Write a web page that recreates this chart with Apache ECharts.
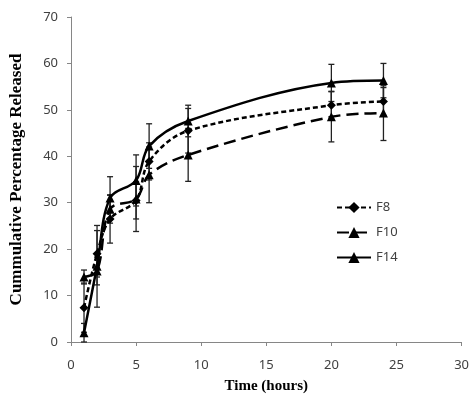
<!DOCTYPE html>
<html>
<head>
<meta charset="utf-8">
<script src="https://cdn.jsdelivr.net/npm/echarts/dist/echarts.min.js"></script>
<style>
  html, body { margin: 0; padding: 0; background: #fff; }
  #chart { width: 472px; height: 399px; }
</style>
</head>
<body>
<div id="chart"></div>
<script>
// sampling times (hours)
const times = [1, 2, 3, 5, 6, 9, 20, 24];

// cumulative % released
const f8 = [7.4, 19.0, 26.5, 30.5, 38.9, 45.5, 51.0, 51.8];
const f10 = [14.0, 15.3, 28.6, 30.8, 36.0, 40.3, 48.5, 49.3];
const f14 = [2.0, 16.3, 31.0, 34.8, 42.2, 47.6, 55.8, 56.3];

// standard deviations
const f8Err = [5.3, 5.0, 5.2, 4.0, 4.0, 4.8, 3.0, 3.0];
const f10Err = [1.5, 3.0, 3.0, 7.0, 6.0, 5.7, 5.4, 5.9];
const f14Err = [2.0, 8.8, 4.6, 5.5, 4.8, 3.4, 4.0, 3.7];

const tickFont = 'Noto Sans';
const titleFont = '"Liberation Serif", "Times New Roman", serif';

function pairs(vals) {
  return times.map((t, i) => [t, vals[i]]);
}

function errData(vals, errs) {
  return times.map((t, i) => [t, vals[i] - errs[i], vals[i] + errs[i]]);
}

function renderErr(params, api) {
  const lo = api.coord([api.value(0), api.value(1)]);
  const hi = api.coord([api.value(0), api.value(2)]);
  const w = 3;
  const style = { stroke: '#222', lineWidth: 1.3 };
  return {
    type: 'group',
    children: [
      { type: 'line', shape: { x1: hi[0], y1: hi[1], x2: lo[0], y2: lo[1] }, style: style },
      { type: 'line', shape: { x1: hi[0] - w, y1: hi[1], x2: hi[0] + w, y2: hi[1] }, style: style },
      { type: 'line', shape: { x1: lo[0] - w, y1: lo[1], x2: lo[0] + w, y2: lo[1] }, style: style }
    ]
  };
}

function errSeries(vals, errs) {
  return {
    type: 'custom',
    renderItem: renderErr,
    data: errData(vals, errs),
    encode: { x: 0, y: [1, 2] },
    z: 1,
    silent: true
  };
}

function lineSeries(name, vals, symbol, dash) {
  return {
    name: name,
    type: 'line',
    data: pairs(vals),
    smooth: 0.35,
    symbol: symbol,
    symbolSize: 9,
    lineStyle: { color: '#000', width: 2.5, type: dash },
    itemStyle: { color: '#000' },
    z: 3
  };
}

const chart = echarts.init(document.getElementById('chart'));
chart.setOption({
  animation: false,
  grid: { left: 67, right: 10, top: 17, bottom: 55 },
  legend: {
    orient: 'vertical',
    left: 336,
    top: 201,
    padding: 0,
    itemWidth: 34,
    itemHeight: 14,
    itemGap: 12,
    data: ['F8', 'F10', 'F14'],
    textStyle: { fontFamily: tickFont, fontSize: 13, color: '#404040' }
  },
  xAxis: {
    type: 'value',
    min: 0,
    max: 30,
    interval: 5,
    name: 'Time (hours)',
    nameLocation: 'middle',
    nameGap: 37,
    nameTextStyle: { fontFamily: titleFont, fontWeight: 'bold', fontSize: 15, color: '#000' },
    axisLine: { lineStyle: { color: '#868686', width: 1 } },
    axisTick: { show: true, length: 4, lineStyle: { color: '#868686' } },
    axisLabel: { margin: 17, fontFamily: tickFont, fontSize: 13, color: '#404040' },
    splitLine: { show: false }
  },
  yAxis: {
    type: 'value',
    min: 0,
    max: 70,
    interval: 10,
    name: 'Cummulative Percentage Released',
    nameLocation: 'middle',
    nameGap: 46,
    nameTextStyle: { fontFamily: titleFont, fontWeight: 'bold', fontSize: 17, color: '#000' },
    axisLine: { show: true, lineStyle: { color: '#868686', width: 1 } },
    axisTick: { show: true, length: 4, lineStyle: { color: '#868686' } },
    axisLabel: { margin: 13, fontFamily: tickFont, fontSize: 13, color: '#404040' },
    splitLine: { show: false }
  },
  series: [
    errSeries(f8, f8Err),
    errSeries(f10, f10Err),
    errSeries(f14, f14Err),
    lineSeries('F8', f8, 'diamond', [5, 3]),
    lineSeries('F10', f10, 'triangle', [12, 6]),
    lineSeries('F14', f14, 'triangle', 'solid')
  ]
});
</script>
</body>
</html>
